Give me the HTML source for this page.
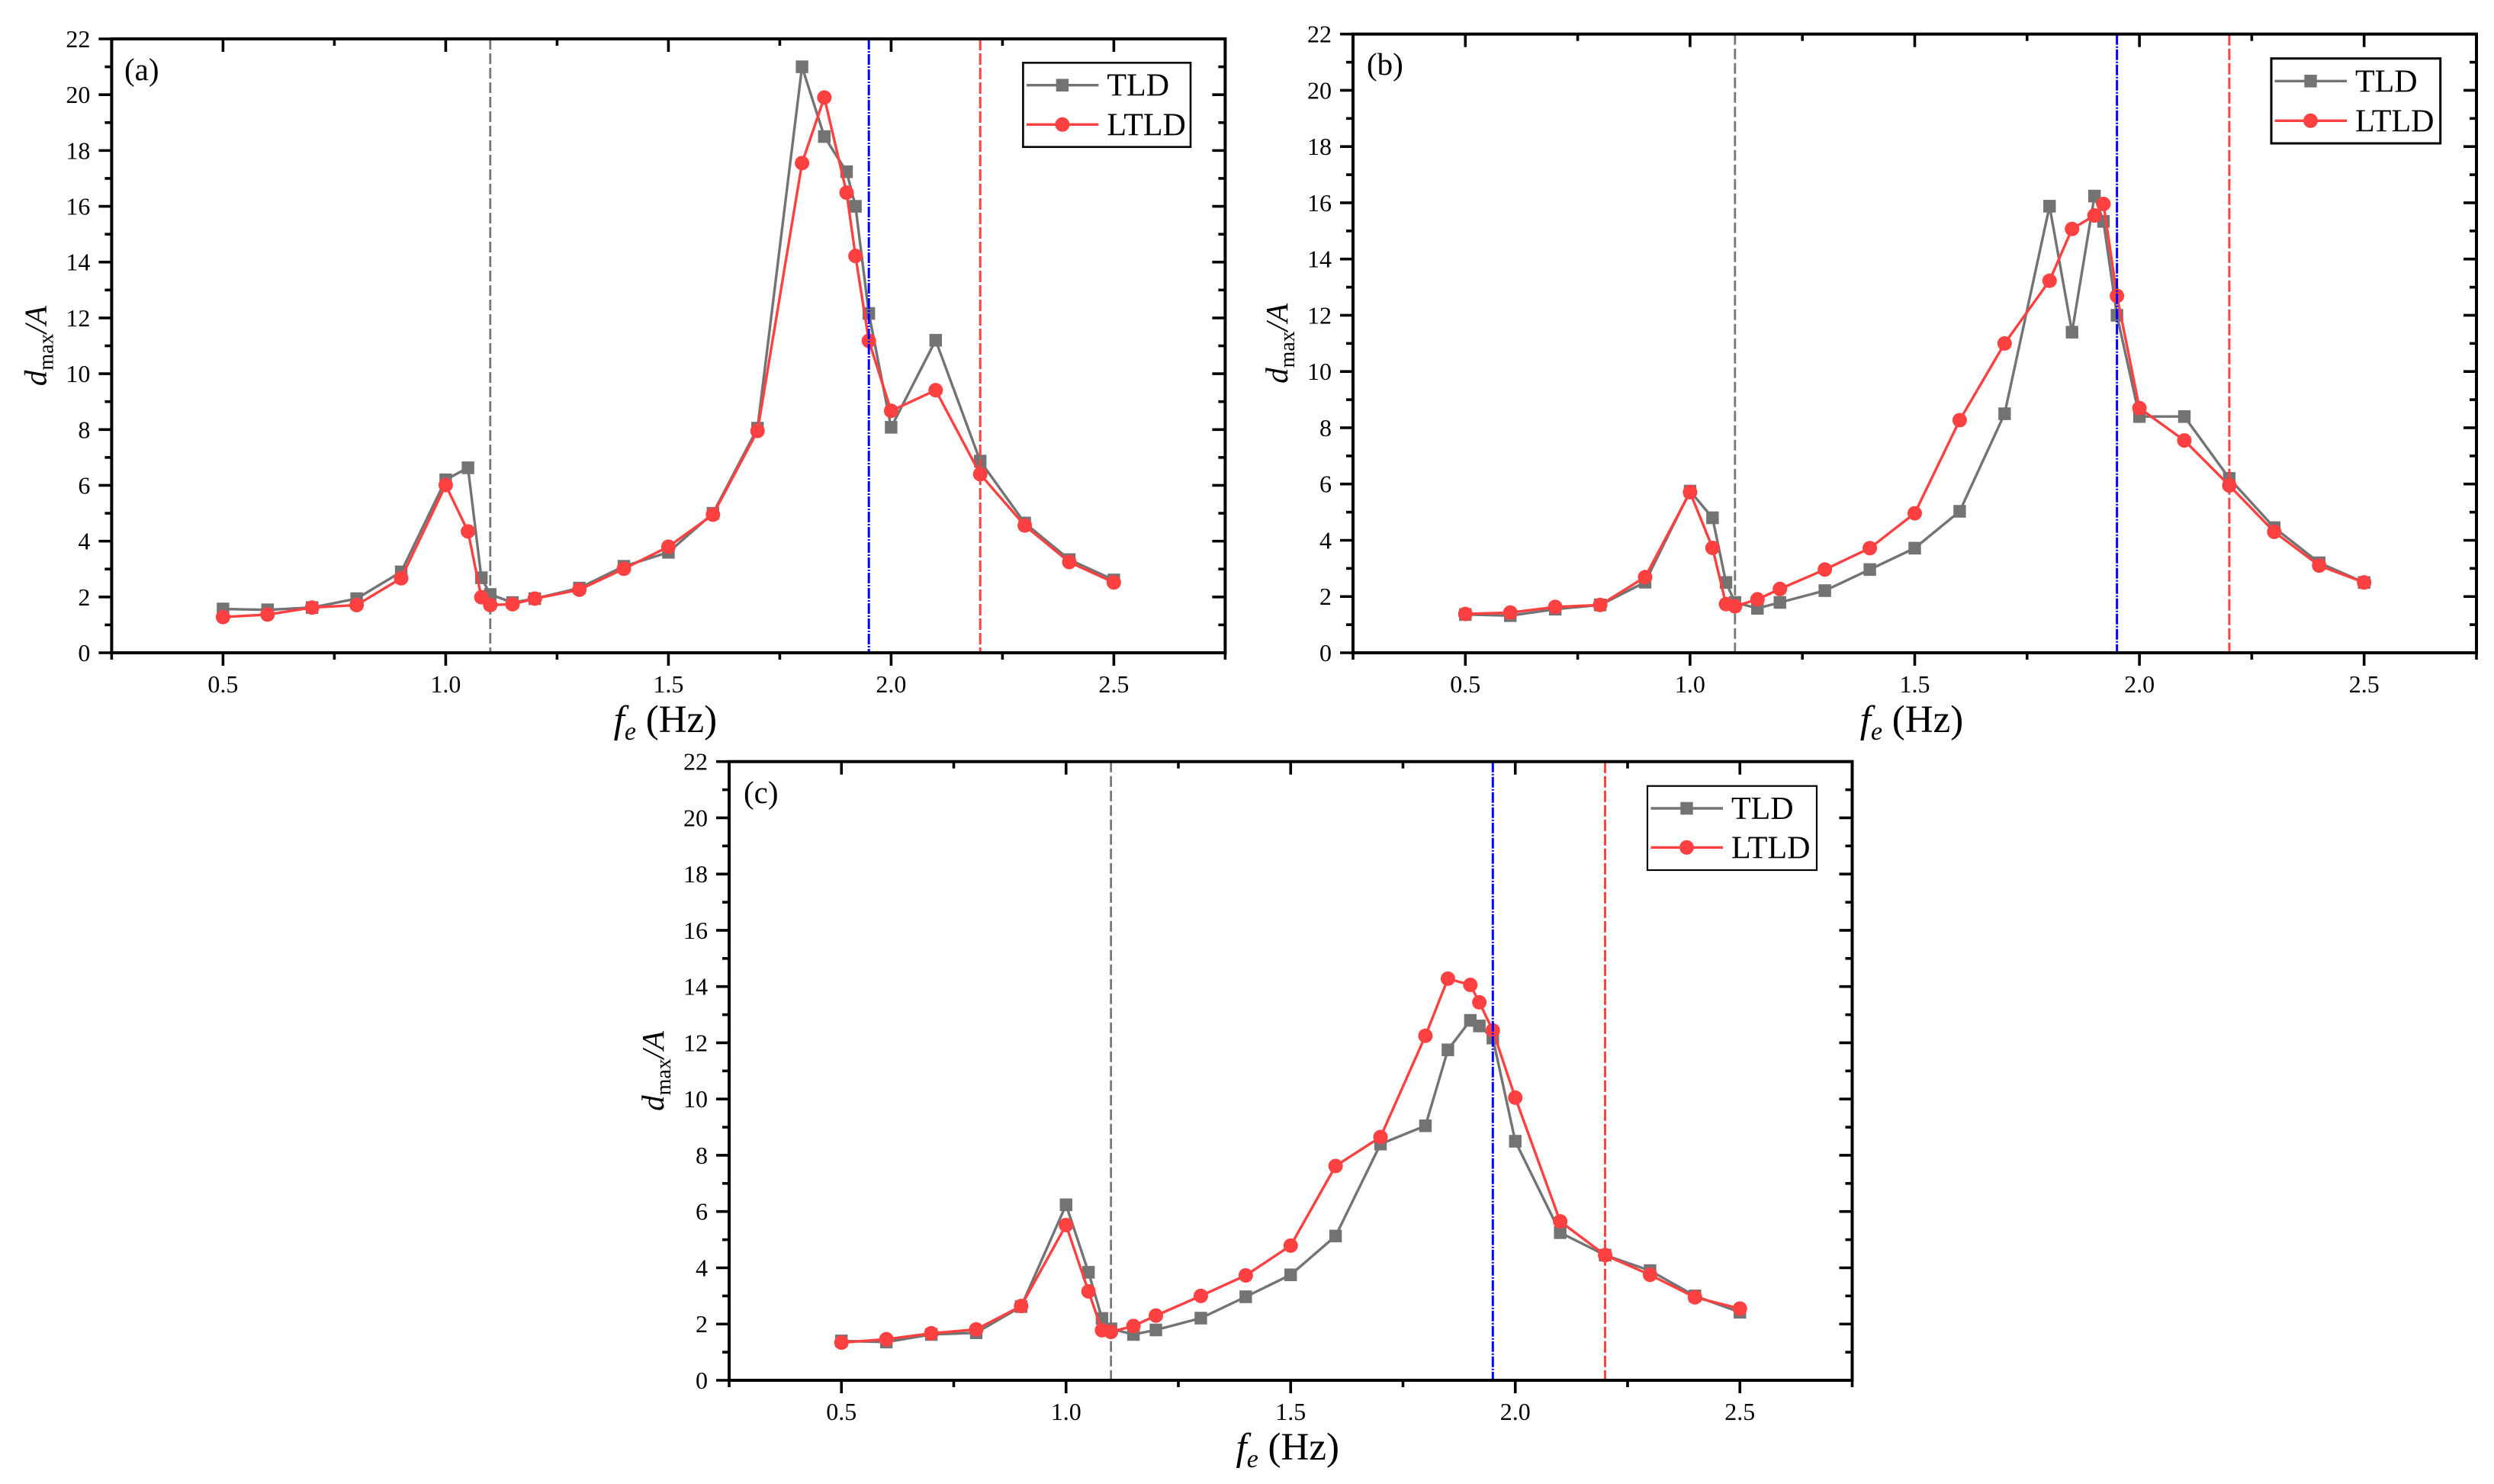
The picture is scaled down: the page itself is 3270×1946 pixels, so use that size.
<!DOCTYPE html>
<html lang="en">
<head>
<meta charset="utf-8">
<title>Maximum displacement response for TLD and LTLD</title>
<style>
html,body{margin:0;padding:0;background:#fff;}
body{width:3270px;height:1946px;overflow:hidden;}
svg{display:block;font-family:"Liberation Serif","Times New Roman",serif;fill:#000;}
</style>
</head>
<body>
<svg id="figure" xmlns="http://www.w3.org/2000/svg" width="3270" height="1946" viewBox="0 0 3270 1946"></svg>
<script>
const freqs = [0.5,0.6,0.7,0.8,0.9,1.0,1.05,1.08,1.1,1.15,1.2,1.3,1.4,1.5,1.6,1.7,1.8,1.85,1.9,1.92,1.95,2.0,2.1,2.2,2.3,2.4,2.5];

const tldA = [1.57,1.54,1.62,1.94,2.9,6.2,6.63,2.69,2.09,1.8,1.94,2.32,3.1,3.6,5.0,8.05,21.0,18.5,17.24,16.0,12.16,8.08,11.2,6.87,4.65,3.34,2.61];
const ltldA = [1.28,1.37,1.62,1.71,2.67,6.01,4.35,1.99,1.71,1.74,1.94,2.26,3.01,3.8,4.95,7.95,17.55,19.9,16.49,14.22,11.18,8.67,9.41,6.4,4.56,3.25,2.52];

const tldB = [1.36,1.32,1.55,1.7,2.51,5.75,4.8,2.5,1.79,1.58,1.79,2.21,2.96,3.72,5.03,8.5,15.88,11.4,16.24,15.34,12.0,8.4,8.4,6.2,4.45,3.2,2.5];
const ltldB = [1.38,1.43,1.63,1.7,2.69,5.71,3.73,1.73,1.65,1.9,2.27,2.96,3.72,4.96,8.27,11.0,13.23,15.07,15.55,15.96,12.69,8.7,7.55,5.95,4.3,3.1,2.5];

const tldC = [1.4,1.36,1.63,1.69,2.62,6.24,3.84,2.2,1.83,1.63,1.79,2.21,2.97,3.75,5.13,8.4,9.05,11.75,12.8,12.6,12.17,8.5,5.25,4.45,3.9,3.0,2.42];
const ltldC = [1.34,1.46,1.67,1.81,2.64,5.52,3.16,1.78,1.72,1.93,2.3,3.0,3.73,4.79,7.62,8.65,12.25,14.28,14.06,13.44,12.44,10.05,5.65,4.45,3.75,2.95,2.55];

const xTickLabels = ['0.5','1.0','1.5','2.0','2.5'];
const xMajorTicks = [0.5,1.0,1.5,2.0,2.5];
const xMinorTicks = [0.25,0.75,1.25,1.75,2.25,2.75];
const yTickLabels = ['0','2','4','6','8','10','12','14','16','18','20','22'];
const yMajorTicks = [0,2,4,6,8,10,12,14,16,18,20,22];
const yMinorTicks = [1,3,5,7,9,11,13,15,17,19,21];
const refGray = 1.1;
const refBlue = 1.95;
const refRed = 2.2;

const GRAY = '#737373';
const RED = '#ff4040';
const svg = document.getElementById('figure');

function make(parent, tag, attrs, text) {
  const n = document.createElementNS('http://www.w3.org/2000/svg', tag);
  for (const k in attrs) n.setAttribute(k, attrs[k]);
  if (text !== undefined) n.textContent = text;
  parent.appendChild(n);
  return n;
}

function drawPanel(p) {
  const xScale = f => p.left + (f - 0.25) * (p.right - p.left) / 2.5;
  const yScale = v => p.bottom - v * (p.bottom - p.top) / 22;

  const g = make(svg, 'g', {});
  
  

  function vref(f, color, dash, name, w) {
    const l = make(g, 'line', {x1: xScale(f), x2: xScale(f), y1: p.top, y2: p.bottom, stroke: color, 'stroke-width': w, 'stroke-dasharray': dash});
    
    
  }

  vref(refGray, '#777777', '14 5', 'reference-line-gray', 2.8);

  const series = [
    {name: 'tld', color: GRAY, vals: p.tld},
    {name: 'ltld', color: RED, vals: p.ltld}
  ];
  series.forEach(s => {
    const sg = make(g, 'g', {});
    
    
    const line = make(sg, 'polyline', {
      points: s.vals.map((v, i) => xScale(freqs[i]) + ',' + yScale(v)).join(' '),
      fill: 'none', stroke: s.color, 'stroke-width': 3.4, 'stroke-linejoin': 'round'
    });
    
    
    s.vals.forEach((v, i) => {
      let m;
      if (s.name === 'tld') {
        m = make(sg, 'rect', {x: xScale(freqs[i]) - 8.2, y: yScale(v) - 8.3, width: 16.4, height: 16.6, fill: s.color});
      } else {
        m = make(sg, 'circle', {cx: xScale(freqs[i]), cy: yScale(v), r: 9.5, fill: s.color});
      }
      
      
    });
  });

  vref(refBlue, '#0000ff', '14 2 2 2', 'reference-line-blue', 3);
  vref(refRed, RED, '15 4', 'reference-line-red', 3);

  const axes = make(g, 'g', {stroke: '#000', fill: 'none'});
  
  
  make(axes, 'rect', {x: p.left, y: p.top, width: p.right - p.left, height: p.bottom - p.top, 'stroke-width': 4});

  function xTick(f, len, name) {
    const x = xScale(f);
    const a = make(axes, 'line', {x1: x, x2: x, y1: p.bottom, y2: p.bottom + len, 'stroke-width': 3.6});
    
    
    const b = make(axes, 'line', {x1: x, x2: x, y1: p.top, y2: p.top + len, 'stroke-width': 3.6});
    
    
  }
  function yTick(v, len, name) {
    const y = yScale(v);
    const a = make(axes, 'line', {x1: p.left - len, x2: p.left, y1: y, y2: y, 'stroke-width': 3.6});
    
    
    const b = make(axes, 'line', {x1: p.right - len, x2: p.right, y1: y, y2: y, 'stroke-width': 3.6});
    
    
  }
  xMajorTicks.forEach(f => xTick(f, 17, 'x-major-tick'));
  xMinorTicks.forEach(f => xTick(f, 9, 'x-minor-tick'));
  yMajorTicks.forEach(v => yTick(v, 17, 'y-major-tick'));
  yMinorTicks.forEach(v => yTick(v, 9, 'y-minor-tick'));

  xTickLabels.forEach((t, i) => {
    const n = make(g, 'text', {x: xScale(xMajorTicks[i]), y: p.bottom + 52, 'text-anchor': 'middle', 'font-size': 32}, t);
    
    
  });
  yTickLabels.forEach((t, i) => {
    const n = make(g, 'text', {x: p.left - 28, y: yScale(yMajorTicks[i]) + 11, 'text-anchor': 'end', 'font-size': 32}, t);
    
    
  });

  const xTitle = make(g, 'text', {x: (p.left + p.right) / 2 - 4, y: p.bottom + 104, 'text-anchor': 'middle', 'font-size': 51});
  
  
  make(xTitle, 'tspan', {'font-style': 'italic'}, 'f');
  make(xTitle, 'tspan', {'font-style': 'italic', 'font-size': 34, dy: 10}, 'e');
  make(xTitle, 'tspan', {dy: -10}, ' (Hz)');

  const yx = p.left - 86;
  const yy = (p.top + p.bottom) / 2;
  const yTitle = make(g, 'text', {x: yx, y: yy, 'text-anchor': 'middle', 'font-size': 41, transform: 'rotate(-90 ' + yx + ' ' + yy + ')'});
  
  
  make(yTitle, 'tspan', {'font-style': 'italic'}, 'd');
  make(yTitle, 'tspan', {'font-size': 28, dy: 9}, 'max');
  make(yTitle, 'tspan', {'font-style': 'italic', dy: -9}, '/A');

  const lab = make(g, 'text', {x: p.tagX, y: p.tagY, 'font-size': 41}, '(' + p.tag + ')');
  
  

  const lg = make(g, 'g', {});
  
  
  const box = make(lg, 'rect', {x: p.lgLeft, y: p.lgTop, width: p.lgRight - p.lgLeft, height: p.lgBottom - p.lgTop, fill: '#fff', stroke: '#000', 'stroke-width': p.lgStroke});
  
  
  [['TLD', GRAY, p.lgRow1], ['LTLD', RED, p.lgRow2]].forEach(r => {
    const e = make(lg, 'g', {});
    
    
    const mid = p.lgLeft + 51.5;
    make(e, 'line', {x1: p.lgLeft + 4.5, x2: p.lgLeft + 99, y1: r[2], y2: r[2], stroke: r[1], 'stroke-width': 3.4});
    if (r[0] === 'TLD') {
      make(e, 'rect', {x: mid - 8.2, y: r[2] - 8.3, width: 16.4, height: 16.6, fill: r[1]});
    } else {
      make(e, 'circle', {cx: mid, cy: r[2], r: 9.5, fill: r[1]});
    }
    make(e, 'text', {x: p.lgLeft + 110, y: r[2] + 14, 'font-size': 42}, r[0]);
  });
}

drawPanel({tag: 'a', left: 146.4, right: 1606.4, top: 51, bottom: 856, tld: tldA, ltld: ltldA,
  tagX: 163, tagY: 105, lgLeft: 1341.4, lgRight: 1561, lgTop: 82.3, lgBottom: 192.7, lgRow1: 111.7, lgRow2: 163.3, lgStroke: 2.6});
drawPanel({tag: 'b', left: 1774, right: 3247, top: 44.7, bottom: 856, tld: tldB, ltld: ltldB,
  tagX: 1792, tagY: 98, lgLeft: 2978, lgRight: 3199.7, lgTop: 76.7, lgBottom: 188, lgRow1: 106.3, lgRow2: 158.3, lgStroke: 3});
drawPanel({tag: 'c', left: 956, right: 2428.5, top: 998.7, bottom: 1810, tld: tldC, ltld: ltldC,
  tagX: 975, tagY: 1053, lgLeft: 2160, lgRight: 2382, lgTop: 1030.7, lgBottom: 1141, lgRow1: 1060, lgRow2: 1111.3, lgStroke: 2.2});
</script>
</body>
</html>
